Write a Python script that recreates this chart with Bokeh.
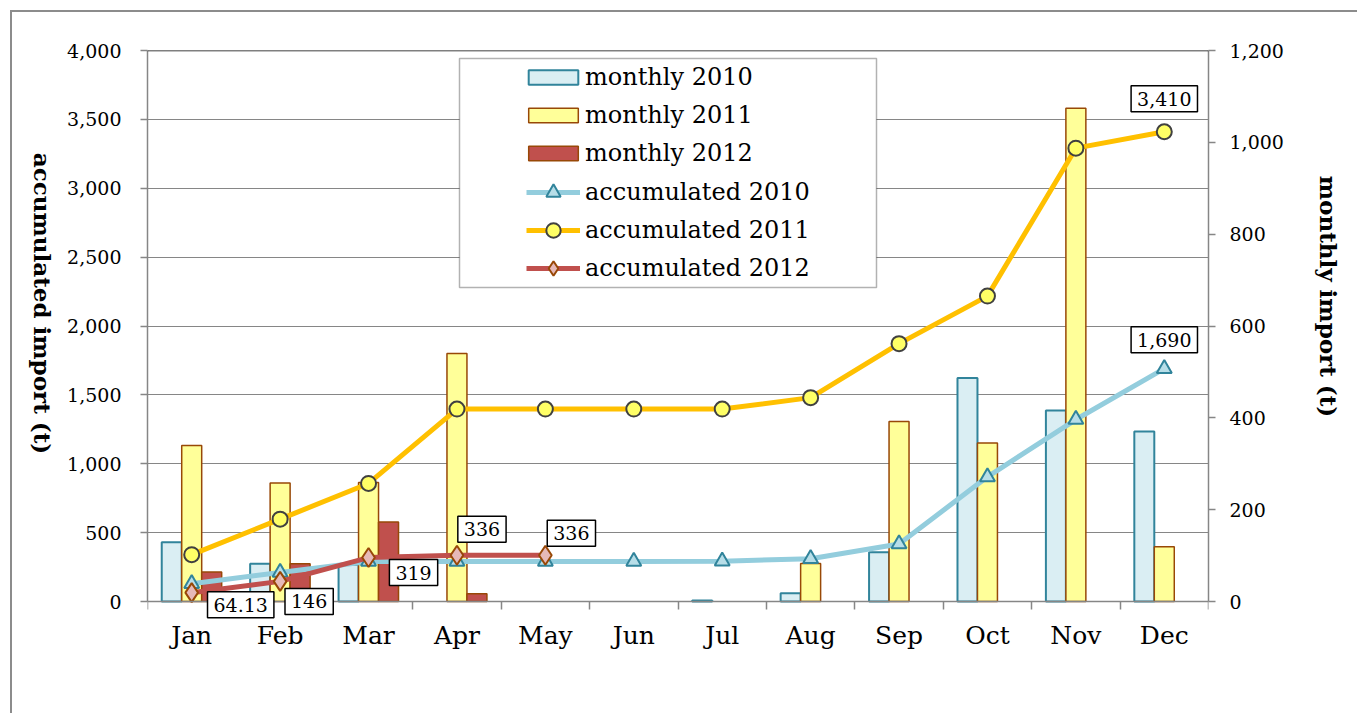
import math
from bokeh.plotting import figure
from bokeh.layouts import row
from bokeh.models import (ColumnDataSource, Range1d, LinearAxis, FixedTicker, NumeralTickFormatter,
                          Legend, LegendItem, Label, BoxAnnotation, Span, CDSView, BooleanFilter)
from bokeh.transform import dodge
from bokeh.embed import file_html
from bokeh.resources import INLINE

# ---------------- data ----------------
months = ["Jan", "Feb", "Mar", "Apr", "May", "Jun", "Jul", "Aug", "Sep", "Oct", "Nov", "Dec"]
monthly_2010 = [129, 82, 80, 0, 0, 0, 2, 18, 107, 487, 416, 370]
monthly_2011 = [340, 258, 259, 540, 0, 0, 0, 83, 392, 345, 1074, 119]
monthly_2012 = [64.13, 82, 173, 17, 0]
accumulated_2010 = [129, 211, 291, 291, 291, 291, 293, 311, 418, 905, 1321, 1690]
accumulated_2011 = [340, 598, 857, 1397, 1397, 1397, 1397, 1480, 1872, 2217, 3291, 3410]
accumulated_2012 = [64.13, 146, 319, 336, 336]
left_ticks = [0, 500, 1000, 1500, 2000, 2500, 3000, 3500, 4000]
right_ticks = [0, 200, 400, 600, 800, 1000, 1200]
left_title = "accumulated import (t)"
right_title = "monthly import (t)"

FONT = "DejaVu Serif"
GRAY = "#868686"

# layout (pixels)
H = 701
FRAME_H_DATA = 551      # height of the 0..max part of the plot area
PAD_BELOW = 58          # extra plot-area space below zero (room for data labels / month names)
LEFT_MAX, RIGHT_MAX = 4000, 1200
FB = 50 + FRAME_H_DATA + PAD_BELOW   # page y of plot-area bottom

pos = [i + 0.5 for i in range(len(months))]
pos12 = pos[:len(accumulated_2012)]

src = ColumnDataSource(dict(x=pos, m2010=monthly_2010, m2011=monthly_2011,
                            a2010=accumulated_2010, a2011=accumulated_2011))
src12 = ColumnDataSource(dict(x=pos12, m2012=monthly_2012, a2012=accumulated_2012))


def title_fig(width, text, cx, cy):
    f = figure(width=width, height=H, x_range=Range1d(0, 1), y_range=Range1d(0, 1),
               output_backend="svg", toolbar_location=None,
               x_axis_location=None, y_axis_location=None, min_border=0)
    f.outline_line_color = None
    f.xgrid.visible = False
    f.ygrid.visible = False
    f.border_fill_color = "white"
    f.add_layout(Label(x=cx, y=cy, x_units="screen", y_units="screen", text=text,
                       angle=-math.pi / 2, text_align="center", text_baseline="middle",
                       text_font=FONT, text_font_style="bold", text_font_size="23px",
                       text_color="black"))
    return f


p = figure(width=1228, height=H, x_range=Range1d(0, 12),
           y_range=Range1d(-PAD_BELOW * LEFT_MAX / FRAME_H_DATA, LEFT_MAX),
           output_backend="svg", toolbar_location=None,
           min_border_left=85, min_border_right=82, min_border_top=38,
           min_border_bottom=713 - FB)
p.outline_line_color = None
p.background_fill_color = "white"
p.border_fill_color = "white"
p.extra_y_ranges = {"monthly": Range1d(-PAD_BELOW * RIGHT_MAX / FRAME_H_DATA, RIGHT_MAX)}

# grid
p.xgrid.visible = False
p.ygrid.ticker = FixedTicker(ticks=left_ticks)
p.ygrid.grid_line_color = GRAY
p.ygrid.grid_line_width = 1.2
p.add_layout(Span(location=LEFT_MAX, dimension="width", line_color="black", line_width=1.5))

# x axis (fixed at zero)
xa = p.xaxis[0]
xa.fixed_location = 0
xa.ticker = FixedTicker(ticks=pos, minor_ticks=list(range(len(months) + 1)))
xa.major_label_overrides = {x: m for x, m in zip(pos, months)}
xa.major_tick_line_color = None
xa.major_tick_out = 0
xa.minor_tick_line_color = GRAY
xa.minor_tick_line_width = 1.5
xa.minor_tick_out = 8
xa.minor_tick_in = 0
xa.axis_line_color = GRAY
xa.axis_line_width = 1.5
xa.major_label_text_font = FONT
xa.major_label_text_font_size = "25px"
xa.major_label_text_color = "black"
xa.major_label_standoff = 11

# left axis
ya = p.yaxis[0]
ya.bounds = (0, LEFT_MAX)
ya.ticker = FixedTicker(ticks=left_ticks)
ya.formatter = NumeralTickFormatter(format="0,0")
ya.major_tick_out = 7
ya.major_tick_in = 0
ya.minor_tick_line_color = None
ya.major_tick_line_color = GRAY
ya.major_tick_line_width = 1.5
ya.axis_line_color = GRAY
ya.axis_line_width = 1.5
ya.major_label_text_font = FONT
ya.major_label_text_font_size = "19px"
ya.major_label_text_color = "black"
ya.major_label_standoff = 19

# right axis
ra = LinearAxis(y_range_name="monthly", ticker=FixedTicker(ticks=right_ticks),
                formatter=NumeralTickFormatter(format="0,0"), bounds=(0, RIGHT_MAX))
ra.major_tick_out = 7
ra.major_tick_in = 0
ra.minor_tick_line_color = None
ra.major_tick_line_color = GRAY
ra.major_tick_line_width = 1.5
ra.axis_line_color = GRAY
ra.axis_line_width = 1.5
ra.major_label_text_font = FONT
ra.major_label_text_font_size = "19px"
ra.major_label_text_color = "black"
ra.major_label_standoff = 14
p.add_layout(ra, "right")

# bars (monthly, right axis)
BW = 0.226
v10 = CDSView(filter=BooleanFilter([v > 0 for v in monthly_2010]))
v11 = CDSView(filter=BooleanFilter([v > 0 for v in monthly_2011]))
v12 = CDSView(filter=BooleanFilter([v > 0 for v in monthly_2012]))
b10 = p.vbar(x=dodge("x", -BW, range=p.x_range), top="m2010", width=BW, source=src, view=v10,
             y_range_name="monthly", fill_color="#DAEEF3", line_color="#31849B", line_width=2)
b11 = p.vbar(x=dodge("x", 0, range=p.x_range), top="m2011", width=BW, source=src, view=v11,
             y_range_name="monthly", fill_color="#FFFF99", line_color="#984807", line_width=1.5)
b12 = p.vbar(x=dodge("x", BW, range=p.x_range), top="m2012", width=BW, source=src12, view=v12,
             y_range_name="monthly", fill_color="#C0504D", line_color="#984807", line_width=1.5)

# lines (accumulated, left axis)
l10 = p.line("x", "a2010", source=src, line_color="#93CDDD", line_width=5)
s10 = p.scatter("x", "a2010", source=src, marker="triangle", size=15,
                fill_color="#B7DEE8", line_color="#31849B", line_width=2)
l11 = p.line("x", "a2011", source=src, line_color="#FFC000", line_width=5)
s11 = p.scatter("x", "a2011", source=src, marker="circle", size=15,
                fill_color="#FFFF66", line_color="#404040", line_width=2)
l12 = p.line("x", "a2012", source=src12, line_color="#C0504D", line_width=5)
s12 = p.scatter("x", "a2012", source=src12, marker="diamond", size=19,
                fill_color="#E6B9B8", line_color="#984807", line_width=2)

# data labels
def fmt(v):
    return "{:,}".format(v)

label_points = [(pos12[i], accumulated_2012[i]) for i in range(len(accumulated_2012))]
label_points += [(pos[-1], accumulated_2011[-1]), (pos[-1], accumulated_2010[-1])]
label_offsets = [(49, -12), (29, -20), (45, -15), (25, 26), (26, 22), (0, 33), (0, 29)]
for (lx, ly), (dx, dy) in zip(label_points, label_offsets):
    p.add_layout(Label(x=lx, y=ly, x_offset=dx, y_offset=dy, text=fmt(ly),
                       text_align="center", text_baseline="middle",
                       text_font=FONT, text_font_size="19px", text_color="black",
                       background_fill_color="white", border_line_color="black",
                       border_line_width=1.5, padding=6))

# legend frame (screen units measured from the plot-area bottom-left)
p.add_layout(BoxAnnotation(left=312, right=729, top=FB - 58, bottom=FB - 287,
                           left_units="screen", right_units="screen",
                           top_units="screen", bottom_units="screen",
                           fill_color="white", fill_alpha=1, line_color="black", line_width=1.5))

leg_bars = Legend(items=[LegendItem(label="monthly 2010", renderers=[b10]),
                         LegendItem(label="monthly 2011", renderers=[b11]),
                         LegendItem(label="monthly 2012", renderers=[b12])],
                  location=(375, FB - 167), glyph_width=62, glyph_height=18, label_standoff=1,
                  spacing=10, padding=0, margin=0, border_line_color=None,
                  background_fill_alpha=0, label_text_font=FONT, label_text_font_size="24px",
                  label_text_color="black")
leg_lines = Legend(items=[LegendItem(label="accumulated 2010", renderers=[l10, s10]),
                          LegendItem(label="accumulated 2011", renderers=[l11, s11]),
                          LegendItem(label="accumulated 2012", renderers=[l12, s12])],
                   location=(379, FB - 286), glyph_width=54, glyph_height=36, label_standoff=5,
                   spacing=2, padding=0, margin=0, border_line_color=None,
                   background_fill_alpha=0, label_text_font=FONT, label_text_font_size="24px",
                   label_text_color="black")
p.add_layout(leg_bars)
p.add_layout(leg_lines)

# side figures holding the rotated axis titles (page x 12..62 and 1290..1357)
left_fig = title_fig(50, left_title, 30, 356)
right_fig = title_fig(67, right_title, 38, 363)

layout = row(left_fig, p, right_fig, spacing=0)
layout.styles = {"margin-left": "10px", "margin-top": "10px",
                 "border-left": "2px solid #8c8c8c", "border-top": "2px solid #8c8c8c"}

open("out.html", "w").write(file_html(layout, INLINE))
